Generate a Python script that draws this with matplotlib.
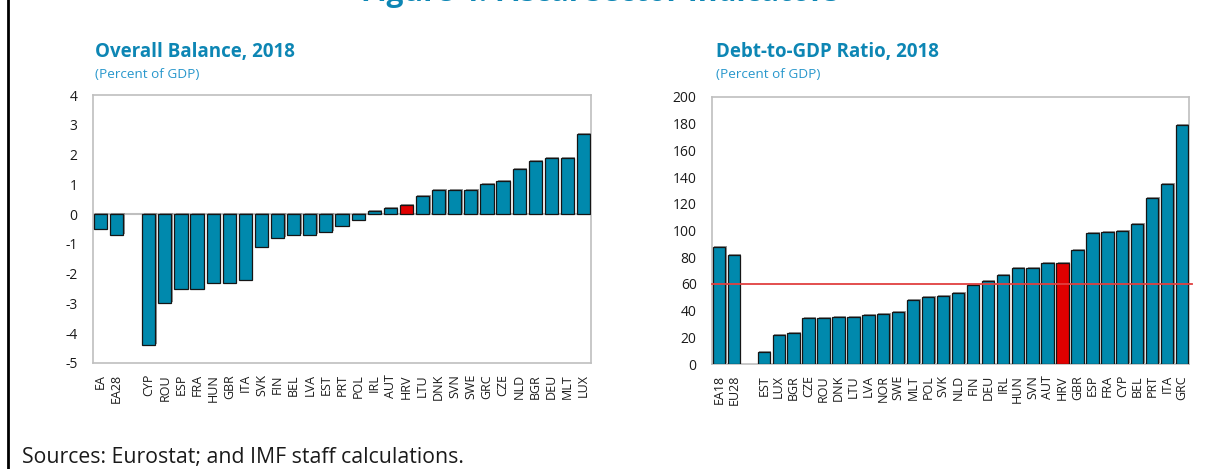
import matplotlib
matplotlib.use("Agg")
import matplotlib.pyplot as plt
import matplotlib.patheffects as pe
from matplotlib.lines import Line2D
import numpy as np

plt.rcParams['font.family'] = ['Open Sans', 'DejaVu Sans']
plt.rcParams['axes.unicode_minus'] = False

# ---------------- data ----------------
bal_labels = ["EA", "EA28", "", "CYP", "ROU", "ESP", "FRA", "HUN", "GBR", "ITA", "SVK",
              "FIN", "BEL", "LVA", "EST", "PRT", "POL", "IRL", "AUT", "HRV", "LTU",
              "DNK", "SVN", "SWE", "GRC", "CZE", "NLD", "BGR", "DEU", "MLT", "LUX"]
bal_values = [-0.5, -0.7, None, -4.4, -3.0, -2.5, -2.5, -2.3, -2.3, -2.2, -1.1,
              -0.8, -0.7, -0.7, -0.6, -0.4, -0.2, 0.1, 0.2, 0.3, 0.6,
              0.8, 0.8, 0.8, 1.0, 1.1, 1.5, 1.8, 1.9, 1.9, 2.7]

debt_labels = ["EA18", "EU28", "", "EST", "LUX", "BGR", "CZE", "ROU", "DNK", "LTU", "LVA",
               "NOR", "SWE", "MLT", "POL", "SVK", "NLD", "FIN", "DEU", "IRL", "HUN",
               "SVN", "AUT", "HRV", "GBR", "ESP", "FRA", "CYP", "BEL", "PRT", "ITA", "GRC"]
debt_values = [87.5, 81.8, None, 8.7, 21.5, 23.2, 34.5, 34.6, 35.0, 35.0, 37.0,
               37.3, 38.8, 48.0, 50.3, 51.3, 53.5, 58.9, 62.5, 66.7, 71.7,
               72.2, 75.4, 75.4, 85.1, 98.3, 98.8, 99.8, 104.6, 124.5, 135.2, 179.3]
debt_threshold = 60
highlight = "HRV"

main_title = "Figure 4. Fiscal Sector Indicators"
left_title = "Overall Balance, 2018"
right_title = "Debt-to-GDP Ratio, 2018"
subtitle = "(Percent of GDP)"
source = "Sources: Eurostat; and IMF staff calculations."

# ---------------- style ----------------
BAR = '#0089AD'
RED = '#E00000'
TEAL_T = '#0D86B4'
TEAL_S = '#2897CC'
SPINE = '#BFBFBF'

W, H = 1231, 469
fig = plt.figure(figsize=(W / 100, H / 100), dpi=100)


def fx(px):
    return px / W


def fy(py):
    return 1 - py / H


def draw(ax, labels, values, ylim, yticks, width):
    x = np.arange(len(labels))
    vals = [np.nan if v is None else v for v in values]
    colors = [RED if l == highlight else BAR for l in labels]
    bars = ax.bar(x, vals, width=width, color=colors, edgecolor='#151515',
                  linewidth=0.9, zorder=3)
    for b in bars:
        b.set_path_effects([pe.SimplePatchShadow(offset=(1.0, 0.7),
                                                 shadow_rgbFace='#8c8c8c', alpha=0.9),
                            pe.Normal()])
    ax.set_xlim(-width / 2 - 0.05, len(labels) - 1 + width / 2 + 0.05)
    ax.set_ylim(*ylim)
    ax.set_yticks(yticks)
    ax.set_xticks(x)
    ax.set_xticklabels(labels, rotation=90, fontsize=9, color='#1a1a1a')
    ax.tick_params(axis='x', length=0, pad=8)
    ax.tick_params(axis='y', length=0, pad=11, labelsize=10, labelcolor='#1a1a1a')
    for s in ax.spines.values():
        s.set_color(SPINE)
        s.set_linewidth(1.2)
    return ax


# left chart
axL = fig.add_axes([fx(93), fy(363), fx(591 - 93), (363 - 95) / H])
draw(axL, bal_labels, bal_values, (-5, 4), list(range(-5, 5)), 0.82)
axL.axhline(0, color=SPINE, linewidth=1.5, zorder=2)

# right chart
axR = fig.add_axes([fx(712), fy(364), fx(1189 - 712), (364 - 97) / H])
draw(axR, debt_labels, debt_values, (0, 200), list(range(0, 201, 20)), 0.83)
axR.axhline(debt_threshold, color='#E04040', linewidth=1.3, zorder=4, clip_on=False,
            xmin=0, xmax=1.006)

# titles
fig.text(fx(95), fy(52), left_title, fontsize=13.5, fontweight='bold', color=TEAL_T,
         va='center', ha='left')
fig.text(fx(95), fy(75), subtitle, fontsize=9.7, color=TEAL_S, va='center', ha='left')
fig.text(fx(716), fy(52), right_title, fontsize=13.5, fontweight='bold', color=TEAL_T,
         va='center', ha='left')
fig.text(fx(716), fy(75), subtitle, fontsize=9.7, color=TEAL_S, va='center', ha='left')

# main title (cut off at the top edge, as in the reference)
fig.text(fx(600), fy(1.0), main_title, fontsize=21.5, fontweight='bold', color=TEAL_T,
         va='baseline', ha='center')

fig.text(fx(22), fy(457), source, fontsize=15.3, color='#1a1a1a', va='center', ha='left')

# left frame line
fig.add_artist(Line2D([fx(8), fx(8)], [0, 1], color='black', linewidth=2,
                      transform=fig.transFigure))

fig.savefig("out.png", dpi=100)
